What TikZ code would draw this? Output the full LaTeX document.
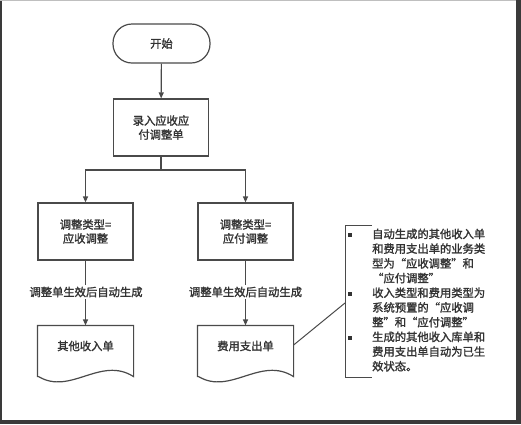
\documentclass[tikz,border=0pt]{standalone}
\usepackage{fontspec}
\newfontfamily\cjk[FakeBold=1.6]{Noto Sans CJK SC}
\usetikzlibrary{arrows.meta}
\definecolor{ln}{HTML}{4A4A4A}
\definecolor{tx}{HTML}{333333}
\definecolor{frm}{HTML}{3A3A3A}
\newcommand\myoq{\makebox[1em][r]{“}}
\newcommand\mycq{\makebox[1em][l]{”}}
\tikzset{
  base/.style={draw=ln, line width=1.2pt, text=tx, font=\cjk\fontsize{11.3}{14}\selectfont, align=center, inner sep=0pt},
  term/.style={base, rounded corners=19pt, minimum width=97pt, minimum height=39pt},
  procbox/.style={base, minimum width=95pt, minimum height=57pt},
  docbox/.style={base, draw=none, minimum width=95pt, minimum height=40pt},
  lbl/.style={fill=white, text=tx, font=\cjk\fontsize{11.3}{14}\selectfont, inner sep=1.5pt},
  conn/.style={draw=ln, line width=1.2pt},
  arr/.style={conn, -{Triangle[length=6pt,width=5pt]}},
  dot/.style={rectangle, fill=tx, inner sep=0pt, minimum size=3.2pt}
}
\begin{document}
\begin{tikzpicture}[x=1pt,y=-1pt]
\useasboundingbox (0,0) rectangle (521,424);
\fill[white] (0,0) rectangle (521,424);
% frame
\fill[frm] (0,0) rectangle (2,424);
\fill[frm] (516,0) rectangle (521,424);
\fill[frm] (0,420) rectangle (521,424);
\fill[black!25] (0,0) rectangle (516,0.8);

\node[term] (start) at (161.5,43.5) {开始};
\node[procbox] (entry) at (161,127.5) {录入应收应\\付调整单};
\node[procbox] (t1) at (85.5,231.5) {调整类型=\\应收调整};
\node[procbox] (t2) at (245.5,231.5) {调整类型=\\应付调整};
\node[docbox] (d1) at (85.5,346) {其他收入单};
\node[docbox] (d2) at (245.5,346) {费用支出单};

% document outlines
\foreach \d in {d1,d2}{
  \draw[conn] ([yshift=-10pt]\d.south west) -- (\d.north west) -- (\d.north east) -- ([yshift=-10pt]\d.south east)
    .. controls ([xshift=-33pt,yshift=11pt]\d.south east) and ([xshift=-63pt,yshift=-29pt]\d.south east) ..
    ([xshift=-95pt,yshift=-10pt]\d.south east)
    -- cycle;
}

\coordinate (br) at (161,170);
\draw[arr] (start) -- (entry);
\draw[conn] (entry.south) -- (br);
\draw[arr] (br) -| (t1.north);
\draw[arr] (br) -| (t2.north);
\draw[arr] (t1.south) -- (d1.north);
\draw[arr] (t2.south) -- (d2.north);
\node[lbl] (l1) at (86,292) {调整单生效后自动生成};
\node[lbl] (l2) at (245.5,292) {调整单生效后自动生成};

% annotation bracket
\coordinate (bt) at (345,225);
\coordinate (bb) at (345,377);
\coordinate (bm) at (345,303);
\draw[conn, line width=1pt] ([xshift=27pt]bt) -- (bt) -- (bb) -- ([xshift=27pt]bb);
\draw[conn, line width=1pt] ([yshift=1pt]d2.east) -- (bm);

\node[anchor=north west, inner sep=0pt, text=tx, align=left,
      font=\cjk\fontsize{11.3}{14.7}\selectfont] (note) at (372,228.5)
 {自动生成的其他收入单\\和费用支出单的业务类\\型为\myoq 应收调整\mycq 和\\\myoq 应付调整\mycq\\收入类型和费用类型为\\系统预置的\myoq 应收调\\整\mycq 和\myoq 应付调整\mycq\\生成的其他收入库单和\\费用支出单自动为已生\\效状态。};
\node[dot] (b1) at (350,235) {};
\node[dot] (b2) at (350,294) {};
\node[dot] (b3) at (350,338) {};
\end{tikzpicture}
\end{document}
